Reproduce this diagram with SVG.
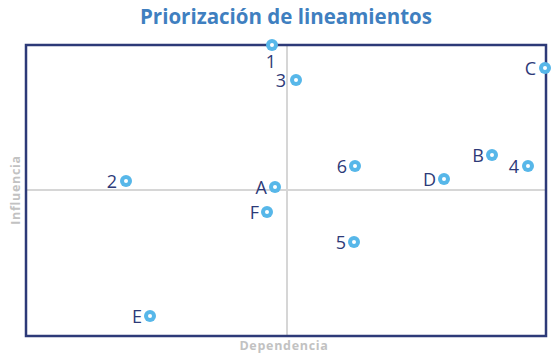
<svg xmlns="http://www.w3.org/2000/svg" width="557" height="356" viewBox="0 0 557 356">
<style>
.title{font-family:"Open Sans","Liberation Sans",sans-serif;font-weight:700;font-size:20.5px;fill:#3f7fc0}
.axis{font-family:"Open Sans","Liberation Sans",sans-serif;font-weight:700;font-size:12.5px;letter-spacing:0.7px;fill:#c2c2c2}
.lbl{font-family:"Open Sans","Liberation Sans",sans-serif;font-size:18px;fill:#2d3a78}
.dot{fill:#57b7e9}
.in{fill:#ffffff}
</style>
<rect width="557" height="356" fill="#ffffff"/>
<text class="title" x="286" y="24" text-anchor="middle">Priorización de lineamientos</text>
<g id="axes">
<line x1="287" y1="45" x2="287" y2="336" stroke="#d6d6d6" stroke-width="2"/>
<line x1="26" y1="190" x2="546" y2="190" stroke="#d6d6d6" stroke-width="2"/>
<rect x="26" y="45" width="520" height="291" fill="none" stroke="#2d3a78" stroke-width="2.5"/>
</g>
<text class="axis" transform="translate(20,190) rotate(-90)" text-anchor="middle">Influencia</text>
<text class="axis" x="284" y="350" text-anchor="middle">Dependencia</text>
<g id="p1"><circle class="dot" cx="272" cy="45" r="6"/><circle class="in" cx="272" cy="45" r="2"/><text class="lbl" x="271" y="68" text-anchor="middle">1</text></g>
<g id="p3"><circle class="dot" cx="296" cy="80" r="6"/><circle class="in" cx="296" cy="80" r="2"/><text class="lbl" x="286" y="87" text-anchor="end">3</text></g>
<g id="pC"><circle class="dot" cx="545" cy="68" r="6"/><circle class="in" cx="545" cy="68" r="2"/><text class="lbl" x="536" y="75" text-anchor="end">C</text></g>
<g id="p2"><circle class="dot" cx="126" cy="181" r="6"/><circle class="in" cx="126" cy="181" r="2"/><text class="lbl" x="117" y="188" text-anchor="end">2</text></g>
<g id="pA"><circle class="dot" cx="275" cy="187" r="6"/><circle class="in" cx="275" cy="187" r="2"/><text class="lbl" x="267" y="194" text-anchor="end">A</text></g>
<g id="pF"><circle class="dot" cx="267" cy="212" r="6"/><circle class="in" cx="267" cy="212" r="2"/><text class="lbl" x="259" y="219" text-anchor="end">F</text></g>
<g id="p6"><circle class="dot" cx="355" cy="166" r="6"/><circle class="in" cx="355" cy="166" r="2"/><text class="lbl" x="347" y="173" text-anchor="end">6</text></g>
<g id="pD"><circle class="dot" cx="444" cy="179" r="6"/><circle class="in" cx="444" cy="179" r="2"/><text class="lbl" x="436" y="186" text-anchor="end">D</text></g>
<g id="pB"><circle class="dot" cx="492" cy="155" r="6"/><circle class="in" cx="492" cy="155" r="2"/><text class="lbl" x="484" y="162" text-anchor="end">B</text></g>
<g id="p4"><circle class="dot" cx="528" cy="166" r="6"/><circle class="in" cx="528" cy="166" r="2"/><text class="lbl" x="519" y="173" text-anchor="end">4</text></g>
<g id="p5"><circle class="dot" cx="354" cy="242" r="6"/><circle class="in" cx="354" cy="242" r="2"/><text class="lbl" x="346" y="249" text-anchor="end">5</text></g>
<g id="pE"><circle class="dot" cx="150" cy="316" r="6"/><circle class="in" cx="150" cy="316" r="2"/><text class="lbl" x="142" y="323" text-anchor="end">E</text></g>
</svg>
